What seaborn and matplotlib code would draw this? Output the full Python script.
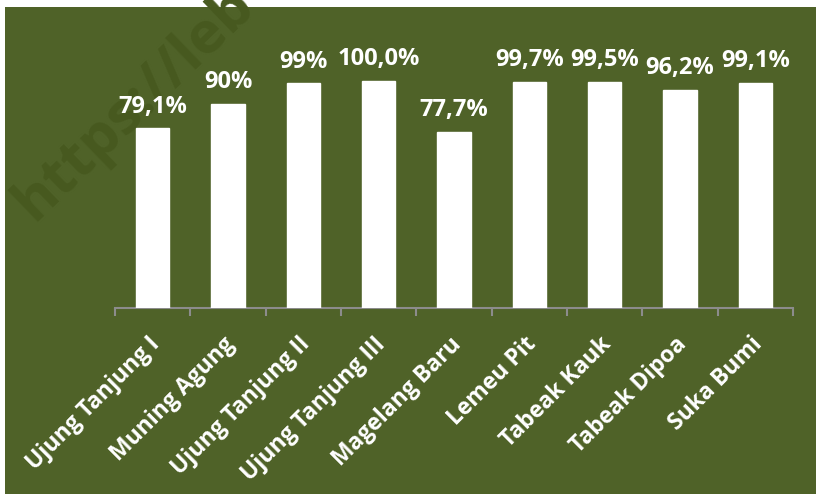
import matplotlib.pyplot as plt
import matplotlib.patches as mpatches
import matplotlib.transforms as mtransforms
import numpy as np
import seaborn as sns
import pandas as pd

# data
villages = ["Ujung Tanjung I", "Muning Agung", "Ujung Tanjung II", "Ujung Tanjung III",
            "Magelang Baru", "Lemeu Pit", "Tabeak Kauk", "Tabeak Dipoa", "Suka Bumi"]
coverage = [79.1, 90.0, 99.0, 100.0, 77.7, 99.7, 99.5, 96.2, 99.1]
value_labels = ["79,1%", "90%", "99%", "100,0%", "77,7%", "99,7%", "99,5%", "96,2%", "99,1%"]

GREEN = "#4F6228"
W, H = 816, 494

sns.set_style("white")
plt.rcParams["font.family"] = ["Open Sans", "DejaVu Sans"]

df = pd.DataFrame({"village": villages, "coverage": coverage})

fig = plt.figure(figsize=(W / 100, H / 100), dpi=100)
fig.patch.set_facecolor("white")

# green panel, white strip only on the left and top
panel = mpatches.Rectangle((5 / W, 0), 1 - 5 / W, 1 - 7 / H,
                           transform=fig.transFigure, facecolor=GREEN,
                           edgecolor="none", zorder=-2)
fig.add_artist(panel)

# faint watermark
fig.text(44 / W, 1 - 232 / H, "https://leb", rotation=44,
         fontsize=42, fontweight="bold", color="#47591f",
         ha="left", va="bottom", rotation_mode="anchor", zorder=-1)

ax_h = 227 * 1.2
ax = fig.add_axes([115 / W, 1 - 308 / H, 678 / W, ax_h / H])
ax.set_zorder(2)
ax.patch.set_alpha(0)

sns.barplot(data=df, x="village", y="coverage", color="white", saturation=1,
            width=0.44, ax=ax, zorder=3)

ax.set_ylim(0, 120)
ax.set_xlim(-0.5, len(villages) - 0.5)

for cont in ax.containers:
    ax.bar_label(cont, labels=value_labels, padding=7, color="white",
                 fontsize=17, fontweight="bold")

for side in ["top", "right", "left"]:
    ax.spines[side].set_visible(False)
ax.spines["bottom"].set_color("#8c8c8c")
ax.spines["bottom"].set_linewidth(1.5)
ax.set_yticks([])
ax.set_xlabel("")
ax.set_ylabel("")

ax.set_xticks(np.arange(len(villages)))
ax.set_xticklabels(villages, rotation=45, ha="right", rotation_mode="anchor",
                   color="white", fontsize=16.5, fontweight="bold")
ax.tick_params(axis="x", which="major", bottom=False, length=0, pad=16)
ax.set_xticks(np.arange(len(villages) + 1) - 0.5, minor=True)
ax.tick_params(axis="x", which="minor", bottom=True, length=6, width=1.5,
               color="#8c8c8c", direction="out")

# nudge rotated labels slightly left, like the original
shift = mtransforms.ScaledTranslation(-5 / 100, -2 / 100, fig.dpi_scale_trans)
for lbl in ax.get_xticklabels():
    lbl.set_transform(lbl.get_transform() + shift)

fig.savefig("out.png", dpi=100)
